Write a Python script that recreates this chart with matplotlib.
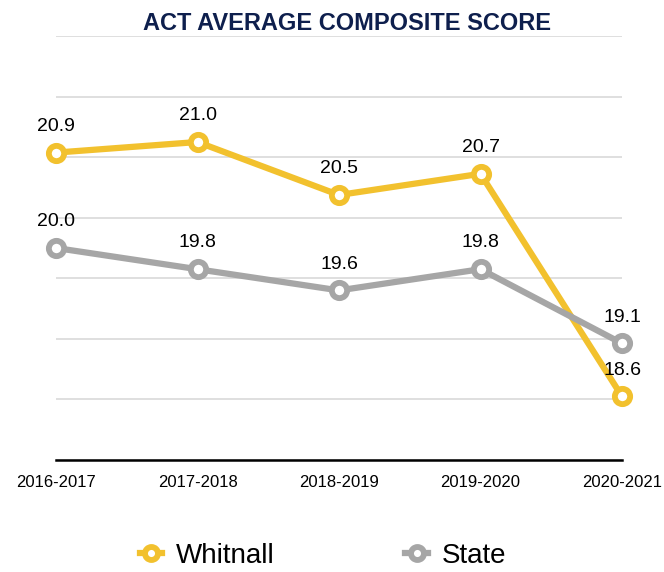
import numpy as np
import matplotlib.pyplot as plt

plt.rcParams['font.family'] = ['Liberation Sans', 'DejaVu Sans']

years = ["2016-2017", "2017-2018", "2018-2019", "2019-2020", "2020-2021"]
whitnall = [20.9, 21.0, 20.5, 20.7, 18.6]
state = [20.0, 19.8, 19.6, 19.8, 19.1]

gold = '#F2C12E'
grey = '#A6A6A6'

fig = plt.figure(figsize=(6.64, 5.72), dpi=100)
ax = fig.add_axes([56/664, 1 - 460/572, (622 - 56)/664, (460 - 36)/572])

x = np.arange(len(years))
for vals, col, name in [(whitnall, gold, 'Whitnall'), (state, grey, 'State')]:
    ax.plot(x, vals, color=col, lw=4.5, marker='o', ms=11, mfc='white',
            mec=col, mew=4.2, label=name, zorder=3, clip_on=False)
    for xi, v in zip(x, vals):
        ax.annotate(f"{v:.1f}", (xi, v), xytext=(0, 19), textcoords='offset points',
                    ha='center', va='center', fontsize=14, color='black', zorder=4)

ax.set_xlim(0, 4)
ax.set_ylim(18, 22)
ax.set_yticks(np.linspace(18, 22, 8))
ax.set_yticklabels([])
ax.grid(axis='y', color='#D9D9D9', lw=1.2)
ax.set_axisbelow(True)
ax.set_xticks(x)
ax.set_xticklabels(years, fontsize=12)
ax.tick_params(length=0, pad=11)
for s in ['top', 'left', 'right']:
    ax.spines[s].set_visible(False)
ax.spines['bottom'].set_color('black')
ax.spines['bottom'].set_linewidth(1.8)

fig.text(0.522, 1 - 24/572, "ACT AVERAGE COMPOSITE SCORE", ha='center', va='center',
         fontsize=17, fontweight='bold', color='#0E1F4D')

handles, labels = ax.get_legend_handles_labels()
fig.legend(handles, labels, loc='center', bbox_to_anchor=(0.4865, 1 - 556/572), ncol=2,
           frameon=False, fontsize=20, handlelength=0.8, columnspacing=4.7,
           handletextpad=0.5, markerscale=0.85)

fig.savefig('out.png', dpi=100)
